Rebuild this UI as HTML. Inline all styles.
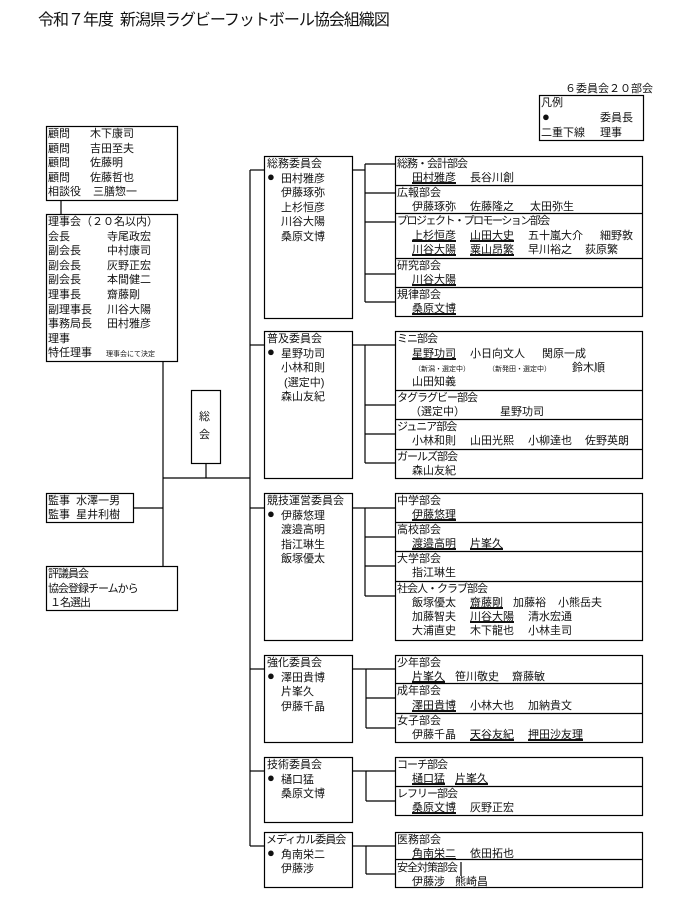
<!DOCTYPE html>
<html><head><meta charset="utf-8">
<style>
body{margin:0;background:#fff;}
#c{position:relative;width:700px;height:903px;overflow:hidden;font-family:"Liberation Sans","Noto Sans CJK JP",sans-serif;font-size:11px;color:#111;}
#c div{position:absolute;white-space:nowrap;line-height:14px;}
.u{text-decoration:underline;text-decoration-thickness:2px;text-underline-offset:1px;}
.s{font-size:7px;}
.k{letter-spacing:-1px;}
.b{font-size:13px;}
svg{position:absolute;left:0;top:0;}
</style></head><body>
<div id="c">
<svg width="700" height="903" fill="none" stroke="#000" stroke-width="1.2">
<rect x="46.5" y="126.5" width="131" height="74"/>
<rect x="46.5" y="214.5" width="131" height="147"/>
<line x1="61" y1="200" x2="61" y2="214"/>
<line x1="163" y1="361" x2="163" y2="566"/>
<rect x="191.5" y="390.5" width="29" height="73"/>
<line x1="206" y1="463" x2="206" y2="478"/>
<line x1="163" y1="478" x2="250" y2="478"/>
<rect x="46.5" y="493.5" width="87" height="29"/>
<line x1="133" y1="508" x2="163" y2="508"/>
<rect x="46.5" y="566.5" width="131" height="44"/>
<rect x="539.5" y="95.5" width="104" height="45"/>
<line x1="250" y1="170" x2="250" y2="846"/>
<line x1="250" y1="170" x2="264" y2="170"/>
<line x1="250" y1="345" x2="264" y2="345"/>
<line x1="250" y1="508" x2="264" y2="508"/>
<line x1="250" y1="669" x2="264" y2="669"/>
<line x1="250" y1="771" x2="264" y2="771"/>
<line x1="250" y1="846" x2="264" y2="846"/>
<rect x="264.5" y="156.5" width="88" height="162"/>
<rect x="264.5" y="331.5" width="88" height="147"/>
<rect x="264.5" y="493.5" width="88" height="147"/>
<rect x="264.5" y="655.5" width="88" height="87"/>
<rect x="264.5" y="757.5" width="88" height="65"/>
<rect x="264.5" y="832.5" width="88" height="55"/>
<rect x="395.5" y="156.5" width="247" height="160"/>
<line x1="395" y1="185.5" x2="643" y2="185.5"/><line x1="395" y1="213.5" x2="643" y2="213.5"/><line x1="395" y1="258.5" x2="643" y2="258.5"/><line x1="395" y1="287.5" x2="643" y2="287.5"/>
<rect x="395.5" y="331.5" width="247" height="147"/>
<line x1="395" y1="390.5" x2="643" y2="390.5"/><line x1="395" y1="419.5" x2="643" y2="419.5"/><line x1="395" y1="449.5" x2="643" y2="449.5"/>
<rect x="395.5" y="493.5" width="247" height="147"/>
<line x1="395" y1="522.5" x2="643" y2="522.5"/><line x1="395" y1="551.5" x2="643" y2="551.5"/><line x1="395" y1="581.5" x2="643" y2="581.5"/>
<rect x="395.5" y="655.5" width="247" height="87"/>
<line x1="395" y1="683.5" x2="643" y2="683.5"/><line x1="395" y1="713.5" x2="643" y2="713.5"/>
<rect x="395.5" y="757.5" width="247" height="58"/>
<line x1="395" y1="786.5" x2="643" y2="786.5"/>
<rect x="395.5" y="832.5" width="247" height="55"/>
<line x1="395" y1="859.5" x2="643" y2="859.5"/>
<line x1="352" y1="170" x2="365" y2="170"/><line x1="365" y1="164" x2="365" y2="302"/>
<line x1="365" y1="164" x2="395" y2="164"/><line x1="365" y1="193" x2="395" y2="193"/><line x1="365" y1="222" x2="395" y2="222"/><line x1="365" y1="274" x2="395" y2="274"/><line x1="365" y1="302" x2="395" y2="302"/>
<line x1="352" y1="345" x2="365" y2="345"/><line x1="365" y1="345" x2="365" y2="463"/>
<line x1="365" y1="345" x2="395" y2="345"/><line x1="365" y1="405" x2="395" y2="405"/><line x1="365" y1="434" x2="395" y2="434"/><line x1="365" y1="463" x2="395" y2="463"/>
<line x1="352" y1="508" x2="365" y2="508"/><line x1="365" y1="508" x2="365" y2="596"/>
<line x1="365" y1="508" x2="395" y2="508"/><line x1="365" y1="537" x2="395" y2="537"/><line x1="365" y1="566" x2="395" y2="566"/><line x1="365" y1="596" x2="395" y2="596"/>
<line x1="352" y1="669" x2="366" y2="669"/><line x1="366" y1="669" x2="366" y2="728"/>
<line x1="366" y1="669" x2="395" y2="669"/><line x1="366" y1="698" x2="395" y2="698"/><line x1="366" y1="728" x2="395" y2="728"/>
<line x1="352" y1="771" x2="366" y2="771"/><line x1="366" y1="771" x2="366" y2="801"/>
<line x1="366" y1="771" x2="395" y2="771"/><line x1="366" y1="801" x2="395" y2="801"/>
<line x1="352" y1="846" x2="366" y2="846"/><line x1="366" y1="846" x2="366" y2="874"/>
<line x1="366" y1="846" x2="395" y2="846"/><line x1="366" y1="874" x2="395" y2="874"/>
<line x1="461" y1="862" x2="461" y2="876"/>
</svg>

<div style="left:38px;top:11px;font-size:16px;line-height:20px;letter-spacing:-1px;">令和７年度&nbsp; 新潟県ラグビーフットボール協会組織図</div>
<div style="left:565px;top:82px;">６委員会２０部会</div>
<div style="left:541px;top:96px;">凡例</div>
<div class="b" style="left:542px;top:110px;">●</div><div style="left:600px;top:111px;">委員長</div>
<div style="left:541px;top:126px;">二重下線</div><div style="left:600px;top:126px;">理事</div>

<div style="left:48px;top:127px;line-height:14.6px;">顧問<br>顧問<br>顧問<br>顧問<br>相談役</div>
<div style="left:90px;top:127px;line-height:14.6px;">木下康司<br>吉田至夫<br>佐藤明<br>佐藤哲也<br>&nbsp;三膳惣一</div>
<div style="left:48px;top:215px;line-height:14.6px;">理事会（２０名以内）<br>会長<br>副会長<br>副会長<br>副会長<br>理事長<br>副理事長<br>事務局長<br>理事<br>特任理事</div>
<div style="left:107px;top:229.6px;line-height:14.6px;">寺尾政宏<br>中村康司<br>灰野正宏<br>本間健二<br>齋藤剛<br>川谷大陽<br>田村雅彦</div>
<div class="s" style="left:106px;top:348px;">理事会にて決定</div>
<div style="left:199px;top:408px;line-height:18px;">総<br>会</div>
<div style="left:48px;top:494px;">監事&nbsp; 水澤一男<br>監事&nbsp; 星井利樹</div>
<div class="k" style="left:48px;top:567px;line-height:14.6px;">評議員会<br>協会登録チームから<br>&nbsp;１名選出</div>

<div style="left:267px;top:157px;line-height:14.5px;">総務委員会</div>
<div class="b" style="left:267px;top:170px;">●</div>
<div style="left:281px;top:171.5px;line-height:14.5px;">田村雅彦<br>伊藤琢弥<br>上杉恒彦<br>川谷大陽<br>桑原文博</div>
<div style="left:267px;top:332px;">普及委員会</div>
<div class="b" style="left:267px;top:345px;">●</div>
<div style="left:281px;top:346.5px;line-height:14.5px;">星野功司<br>小林和則<br>&nbsp;(選定中)<br>森山友紀</div>
<div style="left:267px;top:494px;">競技運営委員会</div>
<div class="b" style="left:267px;top:507px;">●</div>
<div style="left:281px;top:508.5px;line-height:14.5px;">伊藤悠理<br>渡邉高明<br>指江琳生<br>飯塚優太</div>
<div style="left:267px;top:656px;">強化委員会</div>
<div class="b" style="left:267px;top:669px;">●</div>
<div style="left:281px;top:670.5px;line-height:14.5px;">澤田貴博<br>片峯久<br>伊藤千晶</div>
<div style="left:267px;top:758px;">技術委員会</div>
<div class="b" style="left:267px;top:771px;">●</div>
<div style="left:281px;top:772.5px;line-height:14.5px;">樋口猛<br>桑原文博</div>
<div class="k" style="left:266px;top:833px;">メディカル委員会</div>
<div class="b" style="left:267px;top:846px;">●</div>
<div style="left:281px;top:847.5px;line-height:14.5px;">角南栄二<br>伊藤涉</div>

<div class="k" style="left:397px;top:157px;">総務・会計部会</div>
<div class="u" style="left:412px;top:171px;">田村雅彦</div><div style="left:470px;top:171px;">長谷川創</div>
<div style="left:397px;top:186px;">広報部会</div>
<div style="left:412px;top:200px;">伊藤琢弥</div><div style="left:470px;top:200px;">佐藤隆之</div><div style="left:530px;top:200px;">太田弥生</div>
<div class="k" style="left:397px;top:214px;letter-spacing:-1.5px;">プロジェクト・プロモーション部会</div>
<div class="u" style="left:412px;top:229px;">上杉恒彦</div><div class="u" style="left:470px;top:229px;">山田大史</div><div style="left:528px;top:229px;">五十嵐大介</div><div style="left:600px;top:229px;">細野敦</div>
<div class="u" style="left:412px;top:243px;">川谷大陽</div><div class="u" style="left:470px;top:243px;">粟山昂繁</div><div style="left:528px;top:243px;">早川裕之</div><div style="left:585px;top:243px;">荻原繁</div>
<div style="left:397px;top:259px;">研究部会</div>
<div class="u" style="left:412px;top:273px;">川谷大陽</div>
<div style="left:397px;top:288px;">規律部会</div>
<div class="u" style="left:412px;top:302px;">桑原文博</div>

<div class="k" style="left:397px;top:332px;">ミニ部会</div>
<div class="u" style="left:412px;top:347px;">星野功司</div><div style="left:470px;top:347px;">小日向文人</div><div style="left:542px;top:347px;">関原一成</div>
<div class="s" style="left:414px;top:363px;">（新潟・選定中）</div><div class="s" style="left:488px;top:363px;">（新発田・選定中）</div><div style="left:572px;top:361px;">鈴木順</div>
<div style="left:412px;top:375px;">山田知義</div>
<div class="k" style="left:397px;top:391px;">タグラグビー部会</div>
<div style="left:410px;top:405px;">（選定中）</div><div style="left:500px;top:405px;">星野功司</div>
<div class="k" style="left:397px;top:420px;">ジュニア部会</div>
<div style="left:412px;top:434px;">小林和則</div><div style="left:470px;top:434px;">山田光熙</div><div style="left:528px;top:434px;">小柳達也</div><div style="left:585px;top:434px;">佐野英朗</div>
<div class="k" style="left:397px;top:450px;">ガールズ部会</div>
<div style="left:412px;top:464px;">森山友紀</div>

<div style="left:397px;top:494px;">中学部会</div>
<div class="u" style="left:412px;top:508px;">伊藤悠理</div>
<div style="left:397px;top:523px;">高校部会</div>
<div class="u" style="left:412px;top:537px;">渡邉高明</div><div class="u" style="left:470px;top:537px;">片峯久</div>
<div style="left:397px;top:552px;">大学部会</div>
<div style="left:412px;top:566px;">指江琳生</div>
<div class="k" style="left:397px;top:582px;">社会人・クラブ部会</div>
<div style="left:412px;top:596px;">飯塚優太</div><div class="u" style="left:470px;top:596px;">齋藤剛</div><div style="left:513px;top:596px;">加藤裕</div><div style="left:558px;top:596px;">小熊岳夫</div>
<div style="left:412px;top:610px;">加藤智夫</div><div class="u" style="left:470px;top:610px;">川谷大陽</div><div style="left:528px;top:610px;">清水宏通</div>
<div style="left:412px;top:624px;">大浦直史</div><div style="left:470px;top:624px;">木下龍也</div><div style="left:528px;top:624px;">小林圭司</div>

<div style="left:397px;top:656px;">少年部会</div>
<div class="u" style="left:412px;top:670px;">片峯久</div><div style="left:455px;top:670px;">笹川敬史</div><div style="left:512px;top:670px;">齋藤敏</div>
<div style="left:397px;top:684px;">成年部会</div>
<div class="u" style="left:412px;top:699px;">澤田貴博</div><div style="left:470px;top:699px;">小林大也</div><div style="left:528px;top:699px;">加納貴文</div>
<div style="left:397px;top:714px;">女子部会</div>
<div style="left:412px;top:728px;">伊藤千晶</div><div class="u" style="left:470px;top:728px;">天谷友紀</div><div class="u" style="left:528px;top:728px;">押田沙友理</div>

<div class="k" style="left:397px;top:758px;">コーチ部会</div>
<div class="u" style="left:412px;top:772px;">樋口猛</div><div class="u" style="left:455px;top:772px;">片峯久</div>
<div class="k" style="left:397px;top:787px;">レフリー部会</div>
<div class="u" style="left:412px;top:801px;">桑原文博</div><div style="left:470px;top:801px;">灰野正宏</div>

<div style="left:397px;top:833px;">医務部会</div>
<div class="u" style="left:412px;top:847px;">角南栄二</div><div style="left:470px;top:847px;">依田拓也</div>
<div class="k" style="left:397px;top:861px;">安全対策部会</div>
<div style="left:412px;top:875px;">伊藤涉</div><div style="left:455px;top:875px;">熊崎昌</div>
</div>
</body></html>
